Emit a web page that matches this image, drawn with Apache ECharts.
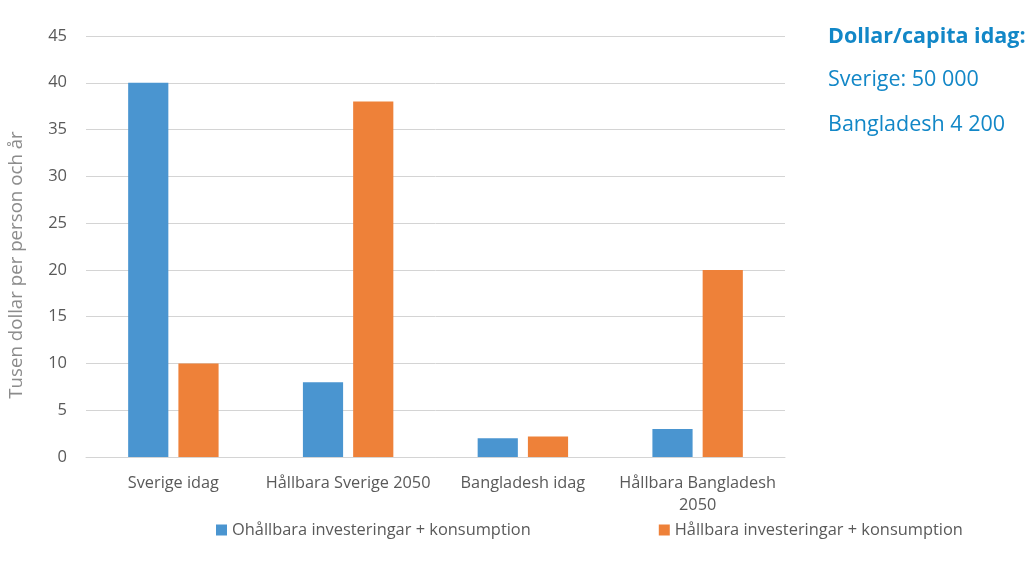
<!DOCTYPE html>
<html><head><meta charset="utf-8">
<script src="https://cdn.jsdelivr.net/npm/echarts@6/dist/echarts.min.js"></script>
<style>html,body{margin:0;padding:0;background:#fff}#c{width:1027px;height:562px}</style>
</head><body><div id="c"></div>
<script>
const categories = ['Sverige idag', 'Hållbara Sverige 2050', 'Bangladesh idag', 'Hållbara Bangladesh\n2050'];
const unsustainable = [40, 8, 2, 3];
const sustainable = [10, 38, 2.2, 20];
const seriesNames = ['Ohållbara investeringar + konsumption', 'Hållbara investeringar + konsumption'];
const yAxisName = 'Tusen dollar per person och år';
const sideTexts = ['Dollar/capita idag:', 'Sverige: 50 000', 'Bangladesh 4 200'];

const chart = echarts.init(document.getElementById('c'));
const font = '"Open Sans", sans-serif';
const sideColor = '#1287c7';
chart.setOption({
  backgroundColor: '#ffffff',
  animation: false,
  grid: { left: 86, right: 242, top: 36, bottom: 105 },
  legend: {
    data: seriesNames,
    top: 517,
    left: 211,
    itemWidth: 11, itemHeight: 11, itemGap: 128,
    icon: 'rect',
    textStyle: { fontFamily: font, fontSize: 16.4, color: '#595959' }
  },
  xAxis: {
    type: 'category',
    data: categories,
    axisLine: { lineStyle: { color: '#d4d4d4', width: 1 } },
    axisTick: { show: false },
    axisLabel: { fontFamily: font, fontSize: 16.3, color: '#595959', margin: 15, lineHeight: 22, interval: 0 }
  },
  yAxis: {
    type: 'value', min: 0, max: 45, interval: 5,
    axisLine: { show: false }, axisTick: { show: false },
    axisLabel: { fontFamily: font, fontSize: 16.5, color: '#595959', margin: 19 },
    splitLine: { lineStyle: { color: '#d4d4d4', width: 1 } }
  },
  series: [
    { name: seriesNames[0], type: 'bar', data: unsustainable, barWidth: '23%', barGap: '25%', itemStyle: { color: '#4a95d0' } },
    { name: seriesNames[1], type: 'bar', data: sustainable, barWidth: '23%', barGap: '25%', itemStyle: { color: '#ee8139' } }
  ],
  graphic: [
    { type: 'text', x: 17, y: 265, rotation: Math.PI / 2, style: { text: yAxisName, fontFamily: font, fontSize: 18.7, fill: '#8c8c8c', align: 'center', verticalAlign: 'middle' } },
    { type: 'text', x: 828, y: 37, style: { text: sideTexts[0], fontFamily: font, fontSize: 21.5, fontWeight: 'bold', fill: sideColor, verticalAlign: 'middle' } },
    { type: 'text', x: 828, y: 80, style: { text: sideTexts[1], fontFamily: font, fontSize: 21.5, fill: sideColor, verticalAlign: 'middle' } },
    { type: 'text', x: 828, y: 125, style: { text: sideTexts[2], fontFamily: font, fontSize: 21.5, fill: sideColor, verticalAlign: 'middle' } }
  ]
});
</script></body></html>
